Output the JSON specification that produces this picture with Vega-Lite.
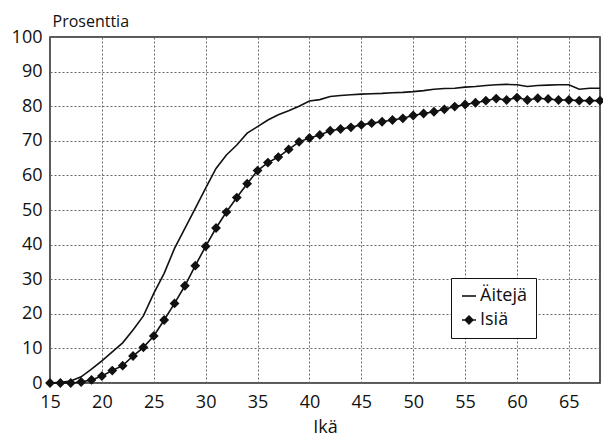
{
  "$schema": "https://vega.github.io/schema/vega-lite/v6.json",
  "autosize": {"type": "none"},
  "padding": {"left": 50, "top": 37, "right": 3, "bottom": 54},
  "width": 550,
  "height": 346,
  "background": "white",
  "config": {
    "font": "Open Sans",
    "view": {"stroke": "#222", "strokeWidth": 1.5},
    "axis": {"labelFont": "Open Sans", "titleFont": "Open Sans", "labelColor": "#111", "titleColor": "#111", "titleFontWeight": "normal"}
  },
  "datasets": {
    "main": [
      {"age":15,"series":"Äitejä","value":0},{"age":16,"series":"Äitejä","value":0.2},{"age":17,"series":"Äitejä","value":0.6},{"age":18,"series":"Äitejä","value":1.8},{"age":19,"series":"Äitejä","value":4},{"age":20,"series":"Äitejä","value":6.4},{"age":21,"series":"Äitejä","value":9},{"age":22,"series":"Äitejä","value":11.6},{"age":23,"series":"Äitejä","value":15.3},{"age":24,"series":"Äitejä","value":19.4},{"age":25,"series":"Äitejä","value":25.9},{"age":26,"series":"Äitejä","value":31.7},{"age":27,"series":"Äitejä","value":38.9},{"age":28,"series":"Äitejä","value":44.7},{"age":29,"series":"Äitejä","value":50.5},{"age":30,"series":"Äitejä","value":56.3},{"age":31,"series":"Äitejä","value":62},{"age":32,"series":"Äitejä","value":65.9},{"age":33,"series":"Äitejä","value":68.8},{"age":34,"series":"Äitejä","value":72.2},{"age":35,"series":"Äitejä","value":74.1},{"age":36,"series":"Äitejä","value":76},{"age":37,"series":"Äitejä","value":77.5},{"age":38,"series":"Äitejä","value":78.7},{"age":39,"series":"Äitejä","value":80},{"age":40,"series":"Äitejä","value":81.5},{"age":41,"series":"Äitejä","value":81.9},{"age":42,"series":"Äitejä","value":82.8},{"age":43,"series":"Äitejä","value":83.1},{"age":44,"series":"Äitejä","value":83.3},{"age":45,"series":"Äitejä","value":83.5},{"age":46,"series":"Äitejä","value":83.6},{"age":47,"series":"Äitejä","value":83.7},{"age":48,"series":"Äitejä","value":83.9},{"age":49,"series":"Äitejä","value":84},{"age":50,"series":"Äitejä","value":84.2},{"age":51,"series":"Äitejä","value":84.5},{"age":52,"series":"Äitejä","value":84.9},{"age":53,"series":"Äitejä","value":85.1},{"age":54,"series":"Äitejä","value":85.2},{"age":55,"series":"Äitejä","value":85.5},{"age":56,"series":"Äitejä","value":85.7},{"age":57,"series":"Äitejä","value":86},{"age":58,"series":"Äitejä","value":86.2},{"age":59,"series":"Äitejä","value":86.3},{"age":60,"series":"Äitejä","value":86.2},{"age":61,"series":"Äitejä","value":85.7},{"age":62,"series":"Äitejä","value":86},{"age":63,"series":"Äitejä","value":86.1},{"age":64,"series":"Äitejä","value":86.2},{"age":65,"series":"Äitejä","value":86.2},{"age":66,"series":"Äitejä","value":84.9},{"age":67,"series":"Äitejä","value":85.2},{"age":68,"series":"Äitejä","value":85.2},
      {"age":15,"series":"Isiä","value":0},{"age":16,"series":"Isiä","value":0},{"age":17,"series":"Isiä","value":0},{"age":18,"series":"Isiä","value":0.3},{"age":19,"series":"Isiä","value":0.9},{"age":20,"series":"Isiä","value":2},{"age":21,"series":"Isiä","value":3.6},{"age":22,"series":"Isiä","value":5},{"age":23,"series":"Isiä","value":7.8},{"age":24,"series":"Isiä","value":10.3},{"age":25,"series":"Isiä","value":13.6},{"age":26,"series":"Isiä","value":18.2},{"age":27,"series":"Isiä","value":23},{"age":28,"series":"Isiä","value":28.1},{"age":29,"series":"Isiä","value":33.9},{"age":30,"series":"Isiä","value":39.5},{"age":31,"series":"Isiä","value":44.8},{"age":32,"series":"Isiä","value":49.4},{"age":33,"series":"Isiä","value":53.6},{"age":34,"series":"Isiä","value":57.6},{"age":35,"series":"Isiä","value":61.4},{"age":36,"series":"Isiä","value":63.7},{"age":37,"series":"Isiä","value":65.3},{"age":38,"series":"Isiä","value":67.5},{"age":39,"series":"Isiä","value":69.7},{"age":40,"series":"Isiä","value":70.8},{"age":41,"series":"Isiä","value":71.7},{"age":42,"series":"Isiä","value":72.9},{"age":43,"series":"Isiä","value":73.4},{"age":44,"series":"Isiä","value":73.9},{"age":45,"series":"Isiä","value":74.6},{"age":46,"series":"Isiä","value":75.1},{"age":47,"series":"Isiä","value":75.5},{"age":48,"series":"Isiä","value":76},{"age":49,"series":"Isiä","value":76.5},{"age":50,"series":"Isiä","value":77.3},{"age":51,"series":"Isiä","value":77.9},{"age":52,"series":"Isiä","value":78.4},{"age":53,"series":"Isiä","value":79.1},{"age":54,"series":"Isiä","value":79.9},{"age":55,"series":"Isiä","value":80.5},{"age":56,"series":"Isiä","value":81},{"age":57,"series":"Isiä","value":81.6},{"age":58,"series":"Isiä","value":82.2},{"age":59,"series":"Isiä","value":81.8},{"age":60,"series":"Isiä","value":82.5},{"age":61,"series":"Isiä","value":81.8},{"age":62,"series":"Isiä","value":82.3},{"age":63,"series":"Isiä","value":82.1},{"age":64,"series":"Isiä","value":81.8},{"age":65,"series":"Isiä","value":81.8},{"age":66,"series":"Isiä","value":81.6},{"age":67,"series":"Isiä","value":81.6},{"age":68,"series":"Isiä","value":81.6}
    ]
  },
  "data": {"name": "main"},
  "encoding": {
    "x": {
      "field": "age", "type": "quantitative",
      "scale": {"domain": [15, 68], "nice": false, "zero": false},
      "axis": {
        "values": [15, 20, 25, 30, 35, 40, 45, 50, 55, 60, 65],
        "title": "Ikä", "titleFontSize": 18, "titlePadding": 7,
        "labelFontSize": 18, "labelPadding": 10, "labelFlush": false, "ticks": false, "domain": false,
        "grid": true, "gridColor": "#666", "gridDash": [2, 2], "gridWidth": 1
      }
    },
    "y": {
      "field": "value", "type": "quantitative",
      "scale": {"domain": [0, 100], "nice": false},
      "axis": {
        "values": [0, 10, 20, 30, 40, 50, 60, 70, 80, 90, 100],
        "title": "Prosenttia", "titleAngle": 0, "titleAlign": "left", "titleBaseline": "alphabetic",
        "titleX": 2, "titleY": -11, "titleFontSize": 16,
        "labelFontSize": 18, "labelPadding": 8, "labelFlush": false, "ticks": false, "domain": false,
        "grid": true, "gridColor": "#666", "gridDash": [2, 2], "gridWidth": 1
      }
    }
  },
  "layer": [
    {
      "mark": {"type": "line", "color": "#111", "strokeWidth": 1.6, "interpolate": "linear"},
      "encoding": {"detail": {"field": "series"}}
    },
    {
      "transform": [{"filter": "datum.series === 'Isiä'"}],
      "mark": {"type": "point", "filled": true, "fill": "#111", "stroke": "#111", "size": 320, "opacity": 1},
      "encoding": {
        "strokeWidth": {"value": 0},
        "shape": {
          "field": "series", "type": "nominal",
          "scale": {"domain": ["Äitejä", "Isiä"], "range": ["M-1,0L1,0", "M-1,0L1,0M0,-0.55L0.55,0L0,0.55L-0.55,0Z"]},
          "legend": {
            "title": null, "orient": "none", "legendX": 401, "legendY": 241,
            "strokeColor": "#111", "fillColor": "white", "padding": 9,
            "labelFontSize": 18, "labelFont": "Open Sans", "labelColor": "#111", "labelOffset": 2,
            "symbolSize": 196, "rowPadding": 6, "symbolOffset": 0, "symbolStrokeWidth": 1.6
          }
        }
      }
    }
  ]
}
